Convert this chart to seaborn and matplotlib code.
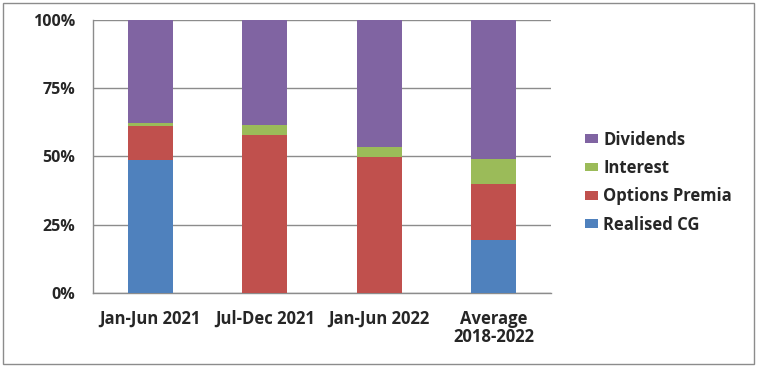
import numpy as np
import pandas as pd
import matplotlib.pyplot as plt
import seaborn as sns
from matplotlib.patches import Rectangle, Patch

# --- Data (share of income, %) ---
periods = ["Jan-Jun 2021", "Jul-Dec 2021", "Jan-Jun 2022", "Average\n2018-2022"]
realised_cg = [48.8, 0.0, 0.0, 19.3]
options_premia = [12.5, 57.7, 49.9, 20.8]
interest = [0.9, 3.8, 3.4, 8.9]
dividends = [37.8, 38.5, 46.7, 51.0]

series_names = ["Realised CG", "Options Premia", "Interest", "Dividends"]
series_colors = ["#4F81BD", "#C0504D", "#9BBB59", "#8064A2"]

df = pd.DataFrame({
    "Period": periods,
    "Realised CG": realised_cg,
    "Options Premia": options_premia,
    "Interest": interest,
    "Dividends": dividends,
})

# cumulative tops so the stacks can be drawn back-to-front
cum = df[series_names].cumsum(axis=1)

sns.set_style("white")
plt.rcParams['font.family'] = ['Open Sans', 'DejaVu Sans']
FS = 12

fig = plt.figure(figsize=(7.57, 3.68), dpi=100)
ax = fig.add_axes([0.1229, 0.2038, 0.6050, 0.7419])

for name, color in reversed(list(zip(series_names, series_colors))):
    sns.barplot(x=df["Period"], y=cum[name], color=color, width=0.39,
                saturation=1, linewidth=0, ax=ax, zorder=3)

ax.set_ylim(0, 100)
ax.set_xlim(-0.5, 3.5)
ax.set_yticks([0, 25, 50, 75, 100])
ax.set_yticklabels(["0%", "25%", "50%", "75%", "100%"], fontsize=FS - 0.5, fontweight='bold')
ax.set_xticks([0, 1, 2, 3])
ax.set_xticklabels(periods, fontsize=FS, fontweight='bold', linespacing=1.0)
ax.set_xlabel("")
ax.set_ylabel("")
ax.yaxis.grid(True, color='#8c8c8c', linewidth=1.0, zorder=0)

for s in ["top", "right"]:
    ax.spines[s].set_visible(False)
for s in ["left", "bottom"]:
    ax.spines[s].set_color('#8c8c8c')
    ax.spines[s].set_linewidth(1.0)

# x tick marks sit between categories, as in the original
ax.tick_params(axis='x', length=0, pad=12)
ax.set_xticks([-0.5, 0.5, 1.5, 2.5, 3.5], minor=True)
ax.tick_params(axis='x', which='minor', length=5, color='#8c8c8c', direction='out')
ax.tick_params(axis='y', length=7, color='#8c8c8c', direction='out', pad=6)

handles = [Patch(facecolor=c, edgecolor='none') for c in reversed(series_colors)]
fig.legend(handles, list(reversed(series_names)), loc='center left',
           bbox_to_anchor=(0.753, 0.505), frameon=False,
           prop={'family': 'Open Sans', 'weight': 'bold', 'size': FS},
           handlelength=0.75, handleheight=0.4, handletextpad=0.35,
           labelspacing=0.62)

fig.patches.append(Rectangle((0.004, 0.011), 0.992, 0.982, transform=fig.transFigure,
                             fill=False, edgecolor='#8c8c8c', linewidth=1.0))

fig.savefig("out.png", dpi=100)
